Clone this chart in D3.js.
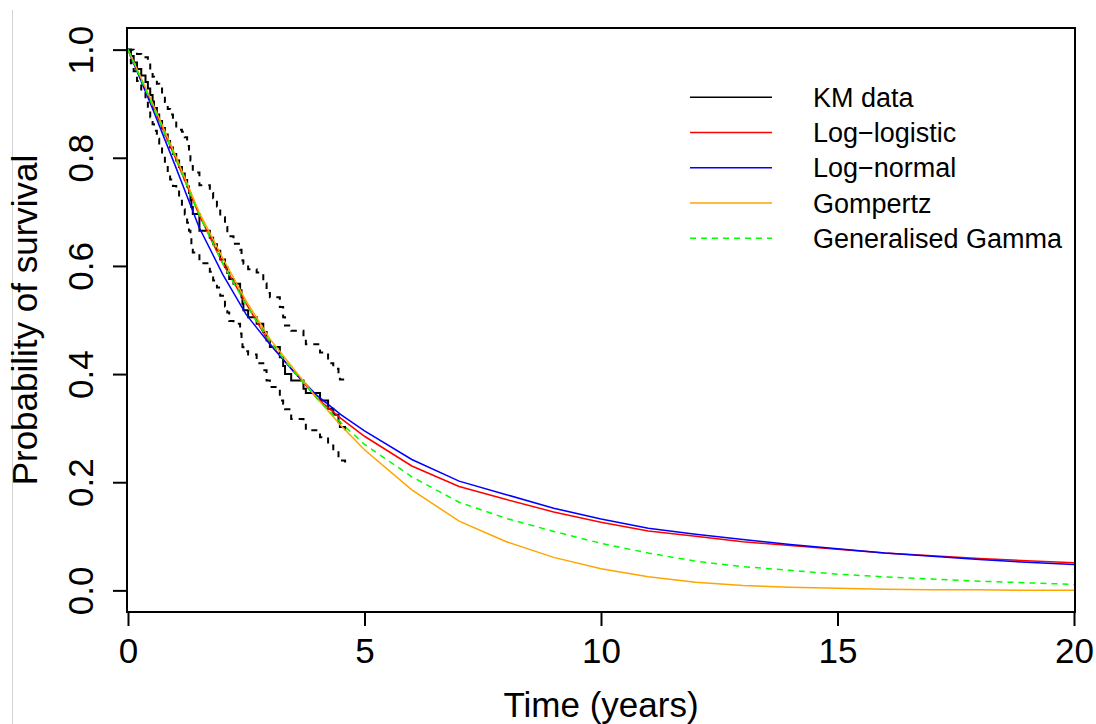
<!DOCTYPE html>
<html>
<head>
<meta charset="utf-8">
<script src="https://cdn.jsdelivr.net/npm/d3@7"></script>
<style>
  body { margin: 0; background: #fff; }
  svg { display: block; font-family: "Liberation Sans", Arial, sans-serif; }
</style>
</head>
<body>
<div id="chart"></div>
<script>
// --- DATA ---
// Kaplan-Meier estimate with 95% CI
const kmTime  = [0, 0.06, 0.12, 0.19, 0.28, 0.37, 0.42, 0.47, 0.52, 0.55, 0.61, 0.66, 0.72, 0.78, 0.84, 0.89, 0.95,
                 1.02, 1.08, 1.14, 1.20, 1.25, 1.29, 1.32, 1.34, 1.37, 1.51, 1.73, 1.80, 1.88, 1.95, 2.05, 2.10,
                 2.14, 2.23, 2.37, 2.40, 2.42, 2.44, 2.54, 2.72, 2.86, 2.93, 3.00, 3.21, 3.28, 3.32, 3.45, 3.71,
                 3.76, 4.06, 4.23, 4.34, 4.45, 4.48, 4.59];
const kmSurv  = [1.000, 0.988, 0.976, 0.964, 0.952, 0.940, 0.928, 0.916, 0.904, 0.892, 0.880, 0.868, 0.855, 0.843, 0.831, 0.819, 0.807,
                 0.795, 0.783, 0.771, 0.759, 0.747, 0.735, 0.722, 0.709, 0.696, 0.665, 0.652, 0.640, 0.628, 0.612, 0.598, 0.587,
                 0.576, 0.567, 0.555, 0.542, 0.530, 0.518, 0.505, 0.493, 0.478, 0.462, 0.450, 0.431, 0.415, 0.400, 0.388, 0.373,
                 0.365, 0.351, 0.336, 0.325, 0.311, 0.302, 0.296];
const kmLower = [1.000, 0.975, 0.960, 0.942, 0.924, 0.905, 0.890, 0.875, 0.862, 0.850, 0.835, 0.820, 0.805, 0.790, 0.772, 0.760, 0.748,
                 0.740, 0.725, 0.705, 0.695, 0.680, 0.665, 0.655, 0.640, 0.625, 0.605, 0.589, 0.573, 0.560, 0.545, 0.525, 0.514,
                 0.498, 0.493, 0.475, 0.460, 0.450, 0.442, 0.436, 0.420, 0.407, 0.388, 0.376, 0.351, 0.345, 0.335, 0.317, 0.311,
                 0.296, 0.283, 0.268, 0.258, 0.246, 0.240, 0.231];
const kmUpper = [1.000, 1.000, 0.995, 0.992, 0.990, 0.986, 0.975, 0.960, 0.950, 0.944, 0.937, 0.930, 0.918, 0.903, 0.890, 0.880, 0.869,
                 0.856, 0.852, 0.848, 0.838, 0.822, 0.810, 0.795, 0.785, 0.773, 0.749, 0.735, 0.725, 0.710, 0.690, 0.672, 0.662,
                 0.655, 0.641, 0.630, 0.618, 0.610, 0.604, 0.594, 0.588, 0.568, 0.550, 0.542, 0.524, 0.505, 0.490, 0.480, 0.470,
                 0.455, 0.440, 0.420, 0.410, 0.395, 0.390, 0.382];

// Fitted parametric survival curves
const fitTime      = [0, 0.5, 1, 1.5, 2, 2.5, 3, 3.5, 4, 4.5, 5, 6, 7, 8, 9, 10, 11, 12, 13, 14, 15, 16, 17, 18, 19, 20];
const logLogistic  = [1, 0.900, 0.800, 0.695, 0.605, 0.530, 0.456, 0.405, 0.355, 0.318, 0.285, 0.230, 0.192, 0.168, 0.145,
                      0.126, 0.110, 0.100, 0.090, 0.083, 0.076, 0.069, 0.064, 0.059, 0.055, 0.051];
const logNormal    = [1, 0.895, 0.785, 0.672, 0.585, 0.510, 0.455, 0.405, 0.360, 0.325, 0.295, 0.242, 0.202, 0.177, 0.152,
                      0.132, 0.115, 0.104, 0.094, 0.085, 0.077, 0.069, 0.063, 0.057, 0.052, 0.048];
const gompertz     = [1, 0.905, 0.805, 0.700, 0.615, 0.535, 0.465, 0.410, 0.355, 0.305, 0.260, 0.186, 0.128, 0.090, 0.061,
                      0.040, 0.025, 0.015, 0.009, 0.006, 0.004, 0.002, 0.001, 0.001, 0.000, 0.000];
const genGamma     = [1, 0.900, 0.800, 0.695, 0.605, 0.528, 0.460, 0.405, 0.355, 0.310, 0.270, 0.210, 0.163, 0.133, 0.109,
                      0.087, 0.069, 0.054, 0.044, 0.037, 0.030, 0.025, 0.021, 0.017, 0.014, 0.011];

const legendLabels = ['KM data', 'Log\u2212logistic', 'Log\u2212normal', 'Gompertz', 'Generalised Gamma'];
const seriesColors = ['#000000', '#ff0000', '#0000ff', '#ffa500', '#00ff00'];
const xTicks = [0, 5, 10, 15, 20];
const yTicks = [0, 0.2, 0.4, 0.6, 0.8, 1.0];

// --- CHART ---
const W = 1096, H = 724;
const plot = { left: 127, right: 1075, top: 28, bottom: 612 };

const svg = d3.select('#chart').append('svg')
    .attr('width', W).attr('height', H);

// faint border line at the left edge of the screenshot
svg.append('line')
    .attr('x1', 12.5).attr('x2', 12.5).attr('y1', 10).attr('y2', H)
    .attr('stroke', '#d4d4d4').attr('stroke-width', 1);

const x = d3.scaleLinear().domain([0, 20]).range([128, 1074]);
const y = d3.scaleLinear().domain([-0.04, 1.04]).range([plot.bottom, plot.top]);

// x axis
const xAxis = svg.append('g')
    .attr('transform', `translate(0,${plot.bottom})`)
    .call(d3.axisBottom(x).tickValues(xTicks).tickFormat(d3.format('d')).tickSize(14).tickPadding(12));
xAxis.select('.domain').remove();
xAxis.selectAll('line').attr('stroke', '#000').attr('stroke-width', 2);
xAxis.selectAll('text').attr('font-size', 35).attr('fill', '#000').attr('font-family', null);

// y axis, labels rotated like R's default
const yAxis = svg.append('g')
    .attr('transform', `translate(${plot.left},0)`)
    .call(d3.axisLeft(y).tickValues(yTicks).tickFormat(d3.format('.1f')).tickSize(14));
yAxis.select('.domain').remove();
yAxis.selectAll('line').attr('stroke', '#000').attr('stroke-width', 2);
yAxis.selectAll('text')
    .attr('x', null).attr('dy', null)
    .attr('transform', 'translate(-34,0) rotate(-90)')
    .attr('text-anchor', 'middle')
    .attr('font-size', 35).attr('fill', '#000').attr('font-family', null);

// axis titles
svg.append('text')
    .attr('x', (x(0) + x(20)) / 2).attr('y', 717)
    .attr('text-anchor', 'middle').attr('font-size', 35)
    .text('Time (years)');
svg.append('text')
    .attr('transform', `translate(37,${(plot.top + plot.bottom) / 2}) rotate(-90)`)
    .attr('text-anchor', 'middle').attr('font-size', 35)
    .text('Probability of survival');

// clip to the plotting region
svg.append('clipPath').attr('id', 'clip')
    .append('rect')
    .attr('x', plot.left).attr('y', plot.top)
    .attr('width', plot.right - plot.left).attr('height', plot.bottom - plot.top);
const g = svg.append('g').attr('clip-path', 'url(#clip)');

// KM step curves
const stepLine = d3.line().curve(d3.curveStepAfter).x(d => x(d[0])).y(d => y(d[1]));
const km = kmTime.map((t, i) => [t, kmSurv[i]]);
const kmLo = kmTime.map((t, i) => [t, kmLower[i]]);
const kmHi = kmTime.map((t, i) => [t, kmUpper[i]]);

[kmLo, kmHi].forEach(d => {
    g.append('path').datum(d).attr('d', stepLine)
        .attr('fill', 'none').attr('stroke', '#000')
        .attr('stroke-width', 2).attr('stroke-dasharray', '6,6');
});
g.append('path').datum(km).attr('d', stepLine)
    .attr('fill', 'none').attr('stroke', '#000').attr('stroke-width', 2);

// fitted curves
const fitLine = d3.line().x(d => x(d[0])).y(d => y(d[1]));
const fits = [logLogistic, logNormal, gompertz, genGamma];
fits.forEach((vals, i) => {
    const path = g.append('path')
        .datum(fitTime.map((t, j) => [t, vals[j]]))
        .attr('d', fitLine)
        .attr('fill', 'none')
        .attr('stroke', seriesColors[i + 1])
        .attr('stroke-width', 1.5);
    if (i === 3) path.attr('stroke-dasharray', '6,5');
});

// box
svg.append('rect')
    .attr('x', plot.left).attr('y', plot.top)
    .attr('width', plot.right - plot.left).attr('height', plot.bottom - plot.top)
    .attr('fill', 'none').attr('stroke', '#000').attr('stroke-width', 2);

// legend
const legend = svg.append('g');
legendLabels.forEach((lab, i) => {
    const ly = 97.3 + i * 35.25;
    const ln = legend.append('line')
        .attr('x1', 690).attr('x2', 772).attr('y1', ly).attr('y2', ly)
        .attr('stroke', seriesColors[i]).attr('stroke-width', 1.5);
    if (i === 4) ln.attr('stroke-dasharray', '6,5');
    legend.append('text')
        .attr('x', 813).attr('y', ly).attr('dy', '0.35em')
        .attr('font-size', 27)
        .text(lab);
});
</script>
</body>
</html>
